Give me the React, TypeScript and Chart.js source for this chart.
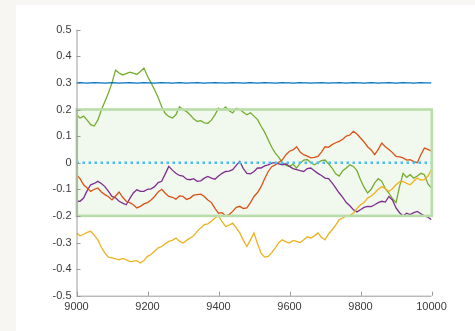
import React, { useEffect, useRef } from "react";
import { Chart, registerables } from "chart.js";

Chart.register(...registerables);

const xValues = [
  9000, 9010, 9020, 9030, 9040, 9050, 9060, 9070, 9080, 9090,
  9100, 9110, 9120, 9130, 9140, 9150, 9160, 9170, 9180, 9190,
  9200, 9210, 9220, 9230, 9240, 9250, 9260, 9270, 9280, 9290,
  9300, 9310, 9320, 9330, 9340, 9350, 9360, 9370, 9380, 9390,
  9400, 9410, 9420, 9430, 9440, 9450, 9460, 9470, 9480, 9490,
  9500, 9510, 9520, 9530, 9540, 9550, 9560, 9570, 9580, 9590,
  9600, 9610, 9620, 9630, 9640, 9650, 9660, 9670, 9680, 9690,
  9700, 9710, 9720, 9730, 9740, 9750, 9760, 9770, 9780, 9790,
  9800, 9810, 9820, 9830, 9840, 9850, 9860, 9870, 9880, 9890,
  9900, 9910, 9920, 9930, 9940, 9950, 9960, 9970, 9980, 9990, 10000,
];

const blueSeries = [
  0.300, 0.301, 0.300, 0.299, 0.300, 0.301, 0.300, 0.300, 0.299, 0.300,
  0.301, 0.300, 0.299, 0.300, 0.300, 0.301, 0.300, 0.299, 0.300, 0.301,
  0.300, 0.300, 0.299, 0.300, 0.301, 0.300, 0.300, 0.299, 0.300, 0.301,
  0.300, 0.299, 0.300, 0.300, 0.301, 0.300, 0.299, 0.300, 0.300, 0.301,
  0.300, 0.300, 0.299, 0.300, 0.301, 0.300, 0.300, 0.299, 0.300, 0.301,
  0.300, 0.299, 0.300, 0.301, 0.300, 0.300, 0.299, 0.300, 0.301, 0.300,
  0.300, 0.299, 0.300, 0.301, 0.300, 0.300, 0.299, 0.300, 0.300, 0.301,
  0.300, 0.299, 0.300, 0.300, 0.301, 0.300, 0.299, 0.300, 0.301, 0.300,
  0.300, 0.299, 0.300, 0.301, 0.300, 0.299, 0.300, 0.300, 0.301, 0.300,
  0.299, 0.300, 0.301, 0.300, 0.300, 0.299, 0.300, 0.301, 0.300, 0.300, 0.300,
];

const greenSeries = [
  0.180, 0.168, 0.175, 0.160, 0.143, 0.138, 0.160, 0.198, 0.230, 0.262,
  0.300, 0.348, 0.337, 0.330, 0.335, 0.340, 0.337, 0.332, 0.343, 0.356,
  0.325, 0.300, 0.274, 0.245, 0.210, 0.185, 0.174, 0.168, 0.180, 0.210,
  0.200, 0.192, 0.180, 0.165, 0.155, 0.158, 0.150, 0.148, 0.160, 0.180,
  0.205, 0.198, 0.210, 0.195, 0.187, 0.205, 0.200, 0.190, 0.180, 0.188,
  0.175, 0.162, 0.137, 0.115, 0.086, 0.058, 0.036, 0.020, 0.000, -0.010,
  -0.014, -0.006, -0.020, -0.002, 0.010, 0.012, 0.000, -0.008, 0.000, 0.008,
  0.010, -0.004, -0.020, -0.042, -0.050, -0.030, -0.020, -0.008, -0.014, -0.030,
  -0.064, -0.092, -0.114, -0.100, -0.076, -0.060, -0.070, -0.098, -0.114, -0.135,
  -0.150, -0.090, -0.040, -0.055, -0.045, -0.058, -0.050, -0.040, -0.045, -0.080, -0.095,
];

const orangeSeries = [
  -0.045, -0.060, -0.083, -0.095, -0.108, -0.100, -0.095, -0.110, -0.120, -0.128,
  -0.140, -0.125, -0.110, -0.130, -0.145, -0.150, -0.158, -0.170, -0.164, -0.155,
  -0.150, -0.140, -0.127, -0.110, -0.100, -0.115, -0.127, -0.130, -0.137, -0.125,
  -0.127, -0.138, -0.133, -0.122, -0.120, -0.118, -0.127, -0.140, -0.150, -0.172,
  -0.190, -0.188, -0.200, -0.195, -0.183, -0.168, -0.164, -0.172, -0.170, -0.150,
  -0.127, -0.112, -0.090, -0.060, -0.033, -0.015, -0.008, 0.002, 0.011, 0.030,
  0.043, 0.048, 0.060, 0.040, 0.030, 0.025, 0.018, 0.020, 0.024, 0.040,
  0.060, 0.058, 0.068, 0.075, 0.080, 0.088, 0.100, 0.104, 0.118, 0.108,
  0.093, 0.078, 0.060, 0.048, 0.030, 0.050, 0.074, 0.060, 0.050, 0.038,
  0.024, 0.022, 0.018, 0.010, 0.011, 0.004, 0.000, 0.030, 0.055, 0.050, 0.043,
];

const purpleSeries = [
  -0.145, -0.145, -0.133, -0.105, -0.083, -0.078, -0.070, -0.078, -0.090, -0.108,
  -0.127, -0.132, -0.145, -0.152, -0.158, -0.135, -0.114, -0.102, -0.108, -0.108,
  -0.100, -0.098, -0.090, -0.075, -0.070, -0.042, -0.014, -0.028, -0.040, -0.048,
  -0.050, -0.062, -0.064, -0.060, -0.070, -0.068, -0.058, -0.052, -0.058, -0.062,
  -0.050, -0.040, -0.033, -0.032, -0.026, -0.010, 0.005, -0.022, -0.040, -0.042,
  -0.033, -0.020, -0.020, -0.012, -0.008, -0.002, 0.000, -0.004, -0.008, -0.004,
  -0.014, -0.022, -0.026, -0.030, -0.033, -0.022, -0.020, -0.030, -0.040, -0.048,
  -0.058, -0.060, -0.076, -0.095, -0.114, -0.130, -0.150, -0.162, -0.177, -0.185,
  -0.177, -0.168, -0.164, -0.165, -0.158, -0.150, -0.145, -0.148, -0.127, -0.140,
  -0.170, -0.188, -0.200, -0.190, -0.195, -0.188, -0.183, -0.192, -0.200, -0.205, -0.214,
];

const yellowSeries = [
  -0.264, -0.275, -0.270, -0.262, -0.258, -0.272, -0.290, -0.318, -0.340, -0.355,
  -0.358, -0.362, -0.365, -0.360, -0.365, -0.372, -0.370, -0.368, -0.377, -0.368,
  -0.352, -0.345, -0.333, -0.320, -0.315, -0.305, -0.296, -0.292, -0.283, -0.295,
  -0.302, -0.292, -0.283, -0.275, -0.258, -0.245, -0.233, -0.230, -0.220, -0.208,
  -0.200, -0.222, -0.240, -0.235, -0.227, -0.245, -0.264, -0.292, -0.315, -0.290,
  -0.264, -0.305, -0.340, -0.355, -0.352, -0.338, -0.320, -0.300, -0.290, -0.298,
  -0.302, -0.292, -0.296, -0.300, -0.290, -0.278, -0.283, -0.275, -0.264, -0.280,
  -0.290, -0.268, -0.252, -0.235, -0.214, -0.208, -0.200, -0.198, -0.190, -0.172,
  -0.158, -0.150, -0.133, -0.125, -0.114, -0.100, -0.090, -0.098, -0.108, -0.098,
  -0.083, -0.072, -0.070, -0.078, -0.083, -0.070, -0.058, -0.065, -0.064, -0.050, -0.026,
];

const zeroLineX = [9000, 10000];
const zeroLineY = [0, 0];

const boxX = [9000, 10000];
const boxY = [-0.2, 0.2];

const xTicks = [9000, 9200, 9400, 9600, 9800, 10000];
const yTicks = [-0.5, -0.4, -0.3, -0.2, -0.1, 0, 0.1, 0.2, 0.3, 0.4, 0.5];

const toPoints = (ys: number[]) => ys.map((y, i) => ({ x: xValues[i], y }));

export default function App() {
  const canvasRef = useRef<HTMLCanvasElement | null>(null);

  useEffect(() => {
    if (!canvasRef.current) return;

    const boxPlugin = {
      id: "boxPlugin",
      beforeDatasetsDraw(chart: any) {
        const { ctx, scales } = chart;
        const xs = scales.x;
        const ys = scales.y;
        const l = xs.getPixelForValue(boxX[0]);
        const r = xs.getPixelForValue(boxX[1]);
        const t = ys.getPixelForValue(boxY[1]);
        const b = ys.getPixelForValue(boxY[0]);
        ctx.save();
        ctx.fillStyle = "#f1f8ed";
        ctx.fillRect(l, t, r - l, b - t);
        ctx.restore();
      },
      afterDatasetsDraw(chart: any) {
        const { ctx, scales } = chart;
        const xs = scales.x;
        const ys = scales.y;
        const l = xs.getPixelForValue(boxX[0]);
        const r = xs.getPixelForValue(boxX[1]);
        const t = ys.getPixelForValue(boxY[1]);
        const b = ys.getPixelForValue(boxY[0]);
        ctx.save();
        ctx.strokeStyle = "#b9dda8";
        ctx.lineWidth = 2.6;
        ctx.strokeRect(l + 0.3, t, r - l, b - t);
        ctx.restore();
      },
      afterDraw(chart: any) {
        const { ctx, scales, chartArea } = chart;
        const xs = scales.x;
        const ys = scales.y;
        ctx.save();
        ctx.strokeStyle = "#9a9a9a";
        ctx.lineWidth = 1;
        ctx.beginPath();
        ctx.moveTo(chartArea.left + 0.5, chartArea.top);
        ctx.lineTo(chartArea.left + 0.5, chartArea.bottom + 0.5);
        ctx.lineTo(chartArea.right, chartArea.bottom + 0.5);
        ctx.stroke();
        ctx.beginPath();
        yTicks.forEach((v) => {
          const py = Math.round(ys.getPixelForValue(v)) + 0.5;
          ctx.moveTo(chartArea.left, py);
          ctx.lineTo(chartArea.left + 4, py);
        });
        xTicks.forEach((v) => {
          const px = Math.round(xs.getPixelForValue(v)) + 0.5;
          ctx.moveTo(px, chartArea.bottom);
          ctx.lineTo(px, chartArea.bottom - 4);
        });
        ctx.stroke();
        ctx.restore();
      },
    };

    const lineStyle = (color: string) => ({
      borderColor: color,
      backgroundColor: color,
      borderWidth: 1.3,
      pointRadius: 0,
      tension: 0,
      fill: false,
    });

    const chart = new Chart(canvasRef.current, {
      type: "line",
      data: {
        datasets: [
          {
            label: "zero",
            data: zeroLineX.map((x, i) => ({ x, y: zeroLineY[i] })),
            borderColor: "#4dbeee",
            borderWidth: 2.4,
            borderDash: [2.5, 3.5],
            pointRadius: 0,
            fill: false,
          },
          { label: "s1", data: toPoints(blueSeries), ...lineStyle("#0072bd") },
          { label: "s2", data: toPoints(orangeSeries), ...lineStyle("#d95319") },
          { label: "s3", data: toPoints(yellowSeries), ...lineStyle("#edb120") },
          { label: "s4", data: toPoints(purpleSeries), ...lineStyle("#7e2f8e") },
          { label: "s5", data: toPoints(greenSeries), ...lineStyle("#77ac30") },
        ],
      },
      options: {
        animation: false,
        responsive: false,
        maintainAspectRatio: false,
        layout: { padding: { left: 0, right: 43.5, top: 29.7, bottom: 0 } },
        plugins: { legend: { display: false }, tooltip: { enabled: false } },
        scales: {
          x: {
            type: "linear",
            min: 9000,
            max: 10000,
            afterFit: (s: any) => {
              s.height = 35.3;
            },
            afterBuildTicks: (s: any) => {
              s.ticks = xTicks.map((v) => ({ value: v }));
            },
            grid: { display: false, drawTicks: false },
            border: { display: false },
            ticks: {
              color: "#3a3a3a",
              font: { family: "'Liberation Sans', Arial, sans-serif", size: 11 },
              padding: 5,
              maxRotation: 0,
              autoSkip: false,
              callback: (v: any) => String(v),
            },
          },
          y: {
            type: "linear",
            min: -0.5,
            max: 0.5,
            afterFit: (s: any) => {
              s.width = 76.5;
            },
            afterBuildTicks: (s: any) => {
              s.ticks = yTicks.map((v) => ({ value: v }));
            },
            grid: { display: false, drawTicks: false },
            border: { display: false },
            ticks: {
              color: "#3a3a3a",
              font: { family: "'Liberation Sans', Arial, sans-serif", size: 11 },
              padding: 5,
              autoSkip: false,
              callback: (v: any) => {
                const n = Math.round(Number(v) * 10) / 10;
                return n === 0 ? "0" : String(n);
              },
            },
          },
        },
      },
      plugins: [boxPlugin],
    });

    return () => chart.destroy();
  }, []);

  return (
    <div
      style={{
        position: "absolute",
        left: 0,
        top: 0,
        width: 475,
        height: 331,
        background: "#f8f6f2",
        overflow: "hidden",
      }}
    >
      <div
        style={{
          position: "absolute",
          left: 16,
          top: 5,
          width: 459,
          height: 326,
          background: "#ffffff",
        }}
      />
      <canvas
        ref={canvasRef}
        width={475}
        height={331}
        style={{ position: "absolute", left: 0, top: 0, width: 475, height: 331 }}
      />
    </div>
  );
}
